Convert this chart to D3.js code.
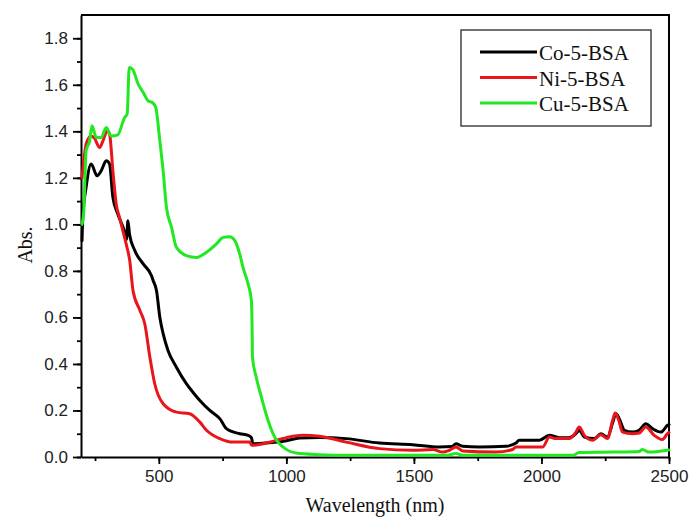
<!DOCTYPE html>
<html lang="en">
<head>
	<meta charset="UTF-8" />
	<script src="https://d3js.org/d3.v7.min.js"></script>
	<title>Abs. vs Wavelength</title>
	<style>
		body { margin: 0; background: #fff; }
		svg { display: block; }
	</style>
</head>
<body>
	<script>
		var w = 691;
		var h = 519;
		var margin = { top: 15, right: 22, bottom: 62, left: 81 };

		// Co-5-BSA (black)
		var coNm = [199, 202, 215, 235, 258, 274, 294, 307, 320, 339, 366, 373, 379, 385, 406, 439, 471, 478, 491, 504, 517, 536, 569, 608, 640, 661, 700, 739, 765, 817, 850, 863, 869, 921, 1000, 1052, 1130, 1235, 1365, 1496, 1600, 1650, 1665, 1691, 1757, 1861, 1900, 1913, 1992, 2031, 2070, 2109, 2135, 2148, 2168, 2207, 2233, 2259, 2280, 2292, 2305, 2325, 2357, 2383, 2409, 2435, 2468, 2494, 2500];
		var coAbs = [0.93, 1.03, 1.159, 1.259, 1.209, 1.23, 1.273, 1.259, 1.116, 1.045, 0.966, 0.935, 1.016, 0.959, 0.887, 0.83, 0.78, 0.758, 0.715, 0.601, 0.53, 0.458, 0.386, 0.315, 0.27, 0.243, 0.2, 0.165, 0.122, 0.1, 0.093, 0.083, 0.057, 0.06, 0.07, 0.082, 0.084, 0.079, 0.06, 0.053, 0.043, 0.045, 0.057, 0.046, 0.043, 0.046, 0.06, 0.072, 0.072, 0.093, 0.083, 0.083, 0.1, 0.115, 0.086, 0.079, 0.1, 0.086, 0.15, 0.186, 0.165, 0.115, 0.107, 0.115, 0.143, 0.122, 0.107, 0.136, 0.14];

		// Ni-5-BSA (red)
		var niNm = [199, 206, 215, 235, 248, 268, 281, 298, 307, 320, 333, 346, 359, 372, 386, 399, 426, 445, 465, 484, 517, 569, 621, 661, 687, 739, 791, 856, 865, 921, 1000, 1065, 1130, 1235, 1365, 1496, 1574, 1613, 1639, 1665, 1691, 1822, 1887, 1900, 2005, 2031, 2057, 2109, 2135, 2148, 2168, 2200, 2233, 2259, 2279, 2289, 2303, 2318, 2357, 2383, 2409, 2442, 2474, 2494, 2500];
		var niAbs = [1.2, 1.273, 1.345, 1.38, 1.37, 1.33, 1.359, 1.402, 1.388, 1.23, 1.087, 1.03, 0.973, 0.916, 0.844, 0.715, 0.63, 0.573, 0.429, 0.315, 0.229, 0.193, 0.186, 0.15, 0.115, 0.079, 0.064, 0.064, 0.05, 0.06, 0.083, 0.093, 0.089, 0.064, 0.036, 0.029, 0.032, 0.021, 0.029, 0.043, 0.026, 0.021, 0.032, 0.043, 0.043, 0.086, 0.079, 0.079, 0.107, 0.129, 0.093, 0.072, 0.096, 0.079, 0.158, 0.189, 0.158, 0.107, 0.1, 0.103, 0.129, 0.093, 0.075, 0.1, 0.105];

		// Cu-5-BSA (green)
		var cuNm = [199, 206, 215, 229, 238, 255, 274, 294, 313, 339, 366, 376, 384, 397, 419, 439, 458, 475, 488, 504, 517, 530, 550, 569, 608, 648, 687, 726, 752, 778, 798, 817, 830, 850, 863, 866, 867, 882, 902, 928, 954, 987, 1039, 1130, 1235, 1626, 1665, 1691, 2122, 2148, 2279, 2383, 2396, 2420, 2494, 2500];
		var cuAbs = [1.0, 1.06, 1.316, 1.359, 1.424, 1.373, 1.373, 1.416, 1.38, 1.385, 1.459, 1.474, 1.674, 1.667, 1.603, 1.567, 1.531, 1.524, 1.502, 1.359, 1.23, 1.073, 0.987, 0.901, 0.866, 0.858, 0.88, 0.916, 0.944, 0.947, 0.93, 0.873, 0.815, 0.744, 0.672, 0.53, 0.429, 0.343, 0.258, 0.158, 0.086, 0.043, 0.017, 0.01, 0.007, 0.007, 0.015, 0.007, 0.007, 0.019, 0.021, 0.024, 0.032, 0.021, 0.029, 0.03];

		var seriesNames = ["Co-5-BSA", "Ni-5-BSA", "Cu-5-BSA"];
		var seriesColors = ["#000000", "#e8161b", "#22e822"];

		var xTicks = [500, 1000, 1500, 2000, 2500];
		var yTicks = [0.0, 0.2, 0.4, 0.6, 0.8, 1.0, 1.2, 1.4, 1.6, 1.8];

		function zip(a, b) {
			return a.map(function (v, i) { return [v, b[i]]; });
		}
		var series = [zip(coNm, coAbs), zip(niNm, niAbs), zip(cuNm, cuAbs)];

		var x = d3.scaleLinear().domain([195, 2500]).range([margin.left, w - margin.right]);
		var y = d3.scaleLinear().domain([0, 1.9]).range([h - margin.bottom, margin.top]);

		var svg = d3.select("body").append("svg")
			.attr("width", w)
			.attr("height", h);

		// minor ticks
		var xMinor = d3.range(250, 2501, 250);
		var yMinor = d3.range(0, 1.85, 0.1);

		svg.append("g")
			.attr("transform", "translate(0," + (h - margin.bottom) + ")")
			.call(d3.axisBottom(x).tickValues(xMinor).tickSize(4).tickFormat(""))
			.call(function (g) { g.select(".domain").remove(); })
			.selectAll("line").attr("stroke-width", 1.8);

		svg.append("g")
			.attr("transform", "translate(" + margin.left + ",0)")
			.call(d3.axisLeft(y).tickValues(yMinor).tickSize(4).tickFormat(""))
			.call(function (g) { g.select(".domain").remove(); })
			.selectAll("line").attr("stroke-width", 1.8);

		// major axes
		var xAxis = svg.append("g")
			.attr("transform", "translate(0," + (h - margin.bottom) + ")")
			.call(d3.axisBottom(x).tickValues(xTicks).tickSize(7).tickPadding(6).tickFormat(d3.format("d")).tickSizeOuter(0));
		var yAxis = svg.append("g")
			.attr("transform", "translate(" + margin.left + ",0)")
			.call(d3.axisLeft(y).tickValues(yTicks).tickSize(8).tickPadding(5).tickFormat(d3.format(".1f")).tickSizeOuter(0));

		[xAxis, yAxis].forEach(function (g) {
			g.select(".domain").attr("stroke-width", 2);
			g.selectAll(".tick line").attr("stroke-width", 1.8);
			g.selectAll("text")
				.attr("fill", "#222")
				.style("font-family", "'Liberation Sans', Arial, sans-serif")
				.style("font-size", "17px");
		});

		// top and right frame
		svg.append("path")
			.attr("d", "M" + margin.left + "," + margin.top + "H" + (w - margin.right) + "V" + (h - margin.bottom))
			.attr("fill", "none")
			.attr("stroke", "#000")
			.attr("stroke-width", 2);

		var line = d3.line()
			.curve(d3.curveMonotoneX)
			.x(function (d) { return x(d[0]); })
			.y(function (d) { return y(d[1]); });

		svg.selectAll(".series")
			.data(series)
			.enter()
			.append("path")
			.attr("class", "series")
			.attr("d", line)
			.attr("fill", "none")
			.attr("stroke", function (d, i) { return seriesColors[i]; })
			.attr("stroke-width", 3)
			.attr("stroke-linejoin", "round")
			.attr("stroke-linecap", "round");

		// legend
		var legend = svg.append("g");
		legend.append("rect")
			.attr("x", 461).attr("y", 30)
			.attr("width", 190).attr("height", 96)
			.attr("fill", "#fff")
			.attr("stroke", "#444")
			.attr("stroke-width", 1.5);

		seriesNames.forEach(function (name, i) {
			var ly = 52 + i * 25.5;
			legend.append("line")
				.attr("x1", 480).attr("x2", 537)
				.attr("y1", ly).attr("y2", ly)
				.attr("stroke", seriesColors[i])
				.attr("stroke-width", 3);
			legend.append("text")
				.attr("x", 539).attr("y", ly + 8)
				.style("font-family", "'Liberation Serif', 'Times New Roman', serif")
				.style("font-size", "21px")
				.attr("fill", "#111")
				.text(name);
		});

		// axis titles
		svg.append("text")
			.attr("x", (margin.left + w - margin.right) / 2)
			.attr("y", 512)
			.attr("text-anchor", "middle")
			.style("font-family", "'Liberation Serif', 'Times New Roman', serif")
			.style("font-size", "20px")
			.attr("fill", "#111")
			.text("Wavelength (nm)");

		svg.append("text")
			.attr("transform", "translate(32,245) rotate(-90)")
			.attr("text-anchor", "middle")
			.style("font-family", "'Liberation Serif', 'Times New Roman', serif")
			.style("font-size", "20px")
			.attr("fill", "#111")
			.text("Abs.");
	</script>
</body>
</html>
